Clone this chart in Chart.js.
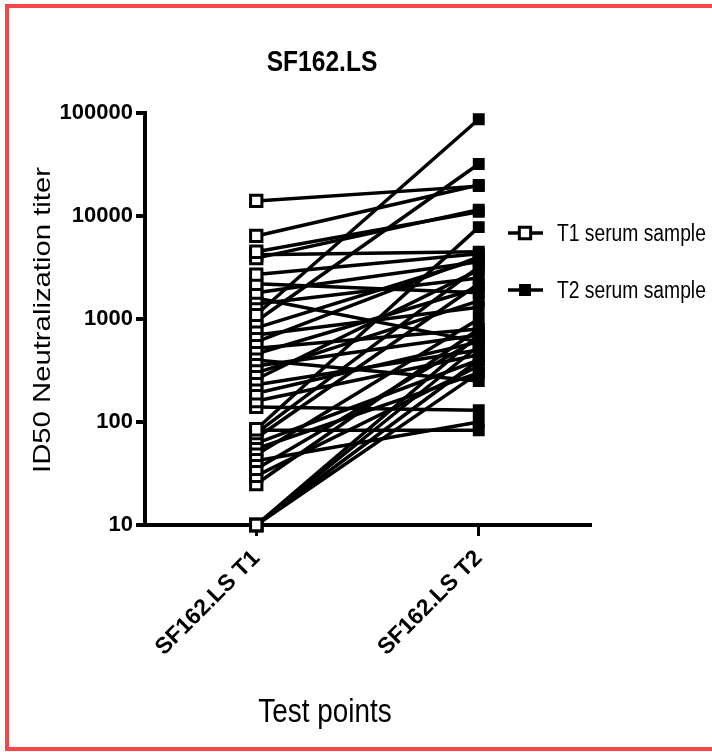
<!DOCTYPE html>
<html>
<head>
<meta charset="utf-8">
<script src="https://cdn.jsdelivr.net/npm/chart.js@4.4.1/dist/chart.umd.min.js"></script>
<style>
  html, body { margin: 0; padding: 0; background: #fff; overflow: hidden; }
  #wrap { position: relative; width: 712px; height: 752px; overflow: hidden; }
  #frame {
    position: absolute; left: 5px; top: 4px; width: 720px; height: 739px;
    border: 4px solid #f44848; border-right: none; pointer-events: none;
  }
</style>
</head>
<body>
<div id="wrap">
  <canvas id="myChart" width="712" height="752"></canvas>
  <div id="frame"></div>
</div>
<script>
// categories on the x axis
const categories = ["SF162.LS T1", "SF162.LS T2"];
// paired titers, one entry per serum donor (T1 -> T2)
const t1Values = [14000, 6400, 4500, 3900, 4200, 2700, 2200, 1800, 1600, 1400,
  1100, 950, 820, 700, 600, 520, 460, 400, 350, 300,
  260, 230, 190, 160, 140, 85, 78, 83, 70, 62,
  55, 48, 42, 35, 30, 25, 10, 10, 10, 10];
const t2Values = [19500, 20000, 11000, 11500, 4500, 4300, 1800, 3600, 600, 2500,
  87000, 32000, 3800, 1300, 4000, 800, 2000, 250, 700, 1500,
  3000, 500, 600, 450, 130, 7800, 3200, 83, 2200, 400,
  300, 1000, 100, 650, 350, 800, 700, 550, 400, 300];
const yTicks = [10, 100, 1000, 10000, 100000];
const legendLabels = ["T1 serum sample", "T2 serum sample"];

const sans = "'Liberation Sans', Arial, sans-serif";

const datasets = t1Values.map((v, i) => ({
  label: "donor " + (i + 1),
  data: [v, t2Values[i]],
  borderColor: "#000",
  borderWidth: 3.5,
  pointStyle: "rect",
  pointRadius: [8, 7],
  pointBorderWidth: [3, 2],
  pointBackgroundColor: ["#fff", "#000"],
  pointBorderColor: "#000",
  clip: false,
}));

// text squeezed or stretched sideways (no narrow font installed)
function stretchText(ctx, text, x, y, font, sx, align, angle) {
  ctx.save();
  ctx.translate(x, y);
  if (angle) ctx.rotate(angle);
  ctx.scale(sx, 1);
  ctx.font = font;
  ctx.textAlign = align;
  ctx.textBaseline = "alphabetic";
  ctx.fillText(text, 0, 0);
  ctx.restore();
}

// title, axis titles and legend are placed by hand
const extraText = {
  id: "extraText",
  afterDraw(chart) {
    const ctx = chart.ctx;
    ctx.save();
    ctx.fillStyle = "#000";
    stretchText(ctx, "SF162.LS", 322, 71, "bold 30px " + sans, 0.82, "center");
    stretchText(ctx, "Test points", 325, 722, "34px " + sans, 0.82, "center");
    stretchText(ctx, "ID50 Neutralization titer", 50, 320, "24px " + sans, 1.22, "center", -Math.PI / 2);

    legendLabels.forEach((label, i) => {
      const y = 233 + i * 57;
      ctx.strokeStyle = "#000";
      ctx.lineWidth = 3.5;
      ctx.beginPath();
      ctx.moveTo(508, y);
      ctx.lineTo(543, y);
      ctx.stroke();
      ctx.fillStyle = i == 0 ? "#fff" : "#000";
      ctx.lineWidth = i == 0 ? 3 : 2;
      Chart.helpers.drawPoint(ctx, { pointStyle: "rect", radius: i == 0 ? 8 : 7, rotation: 0, borderWidth: ctx.lineWidth }, 525, y);
      ctx.fillStyle = "#000";
      stretchText(ctx, label, 557, y + 8, "23.5px " + sans, 0.82, "left");
    });
    ctx.restore();
  },
};

const config = {
  type: "line",
  data: { labels: categories, datasets: datasets },
  options: {
    responsive: false,
    animation: false,
    layout: { padding: { top: 113, right: 122, left: 0, bottom: 0 } },
    plugins: { legend: { display: false }, tooltip: { enabled: false } },
    scales: {
      x: {
        type: "category",
        offset: true,
        afterFit: (scale) => { scale.height = 227; },
        border: { display: true, color: "#000", width: 4 },
        grid: { display: true, drawOnChartArea: false, drawTicks: true, tickLength: 11, color: "#000", lineWidth: 3 },
        ticks: {
          color: "#000",
          font: { family: sans, size: 23, weight: "bold" },
          minRotation: 45,
          maxRotation: 45,
          padding: 9,
        },
      },
      y: {
        type: "logarithmic",
        min: 10,
        max: 100000,
        afterFit: (scale) => { scale.width = 145; },
        afterBuildTicks: (scale) => { scale.ticks = yTicks.map((v) => ({ value: v })); },
        border: { display: true, color: "#000", width: 4 },
        grid: { display: true, drawOnChartArea: false, drawTicks: true, tickLength: 9, color: "#000", lineWidth: 4 },
        ticks: {
          color: "#000",
          autoSkip: false,
          padding: 3,
          font: { family: sans, size: 22, weight: "bold" },
          callback: (value) => String(value),
        },
      },
    },
  },
  plugins: [extraText],
};

const chart = new Chart(document.getElementById("myChart"), config);
</script>
</body>
</html>
